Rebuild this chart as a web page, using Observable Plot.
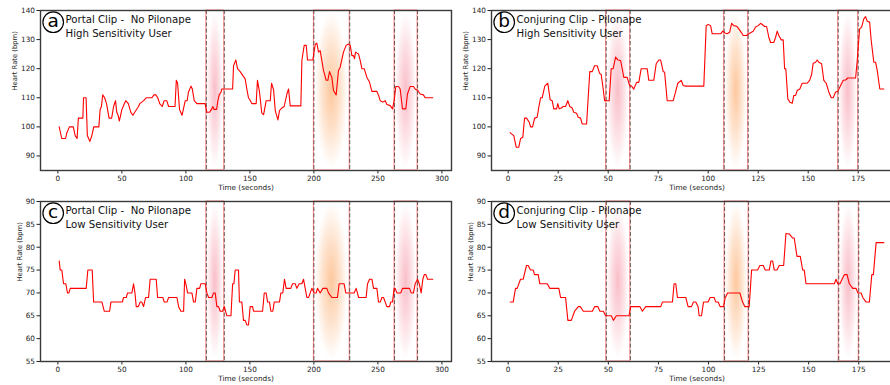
<!DOCTYPE html>
<html>
<head>
<meta charset="utf-8">
<script src="https://cdn.jsdelivr.net/npm/d3@7"></script>
<script src="https://cdn.jsdelivr.net/npm/@observablehq/plot@0.6"></script>
<style>
  html, body { margin: 0; padding: 0; background: #fff; overflow: hidden; }
  #root { position: relative; width: 890px; height: 385px; overflow: hidden; background: #fff; }
  #root svg { position: absolute; overflow: visible; }
  #root svg text { white-space: pre; }
</style>
</head>
<body>
<div id="root"></div>
<script>
// ---------- data (time in seconds, heart rate in bpm) ----------
const portalHighHR = [[1,100],[3,96],[6,96],[7,98],[9,100],[12,100],[13.5,97],[15,96],[16,103],[19.5,103],[20,110],[22,110],[23,97],[24,96],[25,95],[26.5,97],[28,100],[32,100],[33,106],[34,107],[35,111],[36.5,110],[38,108],[40,103],[42,103],[43.5,107],[45,109],[46,105],[47,104],[48,102],[50,106],[52,108],[53,109],[55,108],[57,105],[58.6,104],[60,105],[63,107],[64,108],[67,109],[69,110],[73.5,110],[75,111],[76.5,111],[78,110],[79.5,108],[81.5,107],[83,109],[85,109],[86.5,107],[91.5,107],[92.5,116],[93.5,115],[95,106],[97,104],[99.5,109],[101,109],[102,112],[104,114],[105,113],[106.5,109],[108.6,108],[115,108],[116.4,105],[118.5,105],[120,106],[121,107],[122,106],[124,106],[125,109],[126,111],[127.5,112],[128,113],[136.5,113],[137.2,121],[139,123],[140.3,120],[142.4,119],[144.5,117.6],[146.3,116.5],[147.6,113],[148.9,110],[149.7,109.5],[151.5,108],[154.9,108],[155.9,116],[157.5,112],[159.3,104.7],[160.7,104.2],[162.7,109],[165.9,109],[166.9,115],[168.5,112.7],[169.8,105.6],[171.9,102.4],[173.1,105.6],[175,106.5],[176.8,107],[178.9,111.3],[180.2,113],[181.5,107.2],[189.8,107.2],[190.6,122.8],[192.4,128],[194,128],[195,123],[199.2,123],[201,128.3],[202.3,128.8],[203.6,125.7],[204.9,126.2],[207.5,119.4],[209.6,116],[210.9,116],[212.2,119],[214,117],[215.3,112.5],[217.4,111],[219.2,119.4],[220.5,120.5],[223.1,125.7],[225.2,128],[227,128.5],[228.4,128],[229.7,124.5],[231,124.5],[231.7,123.4],[232.5,125.7],[234.9,125],[236.2,122.8],[237.5,120],[239.3,120],[241.4,117],[243.5,115.3],[245.3,112.2],[249.2,112.2],[250.5,110.8],[251.8,109],[253.9,108.5],[255.7,109],[257,107.7],[259.6,107.3],[261.4,106.2],[262.7,109],[264,113.9],[266.1,113.9],[267.4,113],[269.2,106.2],[271.8,106.2],[273.1,111.3],[275.2,113.9],[277.8,113.9],[279.1,113],[281.2,112.5],[283,111.3],[285.6,111],[286.9,110],[292.9,110]];

const conjuringHighHR = [[1,98],[1.7,97.6],[2.8,97],[4,93],[5.3,93],[6.2,96],[7.3,96.4],[8.2,103],[9.2,103],[10.5,101.6],[11.2,100],[12.2,100],[13.2,103],[14.5,103.3],[15.3,106.7],[16.2,110],[17,110],[18.3,114],[19.8,115],[21,109.3],[22,109],[22.8,106.2],[24.2,106.2],[24.8,108],[25.5,106.2],[26.5,106.5],[27.5,107],[28.7,107],[29.8,109],[30.8,107],[32,106.5],[32.8,105],[34.2,104.7],[35,103.3],[36.2,103],[37,101],[39.2,101],[40.8,119],[42,119],[43.2,121],[44.5,121],[45.7,118.4],[46.5,118],[47.5,113],[48.2,109],[50.5,109],[51.5,120],[52.5,120],[53.7,124],[54.8,123],[56.2,122.8],[57,120],[57.8,117],[59.5,117],[60.7,114.2],[61.7,114],[62.8,113],[64.2,115.3],[65.3,115.3],[66.5,120],[69.5,120],[70.3,116],[72.8,116],[74,121.7],[75.3,123],[76.2,123],[77.5,119],[78.2,118.8],[79.5,109],[82.5,109],[83.7,112],[84.8,115],[86.5,116],[87.5,114.2],[88.7,114],[97.8,114],[99,134.8],[100,135.2],[101.2,134.8],[102,132],[106.2,132],[107.3,132.9],[108.3,132.3],[109.5,132],[110.7,132.5],[111.7,135.6],[112.8,134.8],[114.2,134.6],[115.3,133.7],[116.5,132.5],[117.5,131.4],[119.2,131.4],[120.3,132],[122.5,132.9],[123.7,134.3],[125,134.8],[126.2,135.6],[127,135.2],[128.2,134.5],[129.2,134.5],[130.3,130.8],[131.2,129],[132.8,129],[133.7,130.8],[134.5,132.9],[135.3,131.4],[136.5,129.9],[137.5,129.9],[138.2,120],[138.8,120],[139.8,109.6],[140.8,108.5],[142,108.1],[142.8,110.8],[143.7,110.8],[144.5,112.5],[145.8,113],[147,115],[149.5,115],[150.7,116],[151.7,118],[152.5,121.9],[153.7,122.2],[154.5,123],[155.3,122.2],[156.7,121.7],[157.8,116],[159,115],[160.3,112],[161.5,110],[162.5,110],[163.7,112],[164.8,112.2],[166.2,114.2],[167.5,116],[168.7,116.1],[169.8,116.8],[173.7,116.8],[174.5,122.8],[175.7,133.7],[176.7,134.3],[177.8,137.1],[178.7,137.9],[179.5,136.3],[180.7,136],[181.5,129.7],[182.8,122.2],[183.7,122.2],[184.5,119.4],[185.8,113],[187.8,113]];

const portalLowHR = [[1,77],[1.8,75],[3.1,75],[4.4,72],[6.2,72],[7.5,70],[8.6,70],[9.6,71],[22.1,71],[23.4,75],[26.8,75],[27.9,68],[34.4,68],[36.2,66],[40.4,66],[41.4,68],[50.3,68],[51.3,69],[53.4,69],[54.4,70],[57.8,70],[59.1,72],[60.2,70],[61.2,67],[62.8,67],[64.3,68],[65.6,68],[66.9,67],[68.5,69],[70.8,69],[72.1,73],[76.8,73],[77.9,69],[82,69],[83.1,68],[85.2,68],[86.5,69],[93,69],[94.3,67],[96.1,66],[98.2,66],[99,73],[100,72],[101.3,70],[104.7,70],[106,68],[107.3,68],[108.6,71],[110.7,71],[111.7,72],[115.1,72],[116.4,70],[117.7,69],[120.3,69],[121.6,70],[122.9,70],[124.2,67],[125.5,67],[126.8,66],[128.6,66],[130,67],[131,66],[132,65],[135.2,65],[136.5,72],[137.5,72],[138.5,75],[141.1,75],[141.8,68],[143.7,68],[145,64],[146.3,64],[147.6,63],[148.9,63],[150.2,67],[152.1,67],[152.8,66],[159.9,66],[161.2,70],[162.7,70],[163.8,68],[165.3,68],[166.4,66],[167.9,66],[169,68],[173.1,68],[174.2,70],[175.7,70],[177,73],[178.3,71],[181.9,71],[183.3,72],[185.4,72],[186.7,71],[188.5,72],[190.6,72],[191.9,73],[193.2,71],[194.5,69],[195.8,69],[197.1,70],[198.4,71],[200.2,70],[201.8,70],[202.8,71],[204.9,70],[207,71],[210.1,71],[211.4,70],[214,69],[218.4,69],[219.7,72],[223.6,72],[224.9,70],[231.4,70],[233,71],[234,70],[234.9,69],[240.8,69],[241.9,72],[243.5,73],[245.3,73],[246.6,71],[249.2,71],[250.5,68],[251.8,68],[253.1,69],[254.4,69],[255.7,68],[257,67],[259.1,67],[260,68],[261.4,68],[262.7,71],[263.5,71],[264.8,70],[267.9,70],[269.2,71],[274.7,71],[276,70],[277.8,70],[279.1,72],[281,73],[282.3,72],[283.8,70],[285.1,73],[286.2,74],[287.5,74],[288.8,73],[292.9,73]];

const conjuringLowHR = [[1,68],[2.5,68],[3.65,71],[4.5,71],[6.15,73],[7.5,73],[9.15,76],[10,76],[11.15,75],[12.5,75],[13.15,74],[15,74],[15.8,72],[19.5,72],[20.8,71],[25.3,71],[26.15,69],[28.65,69],[29.8,64],[31.5,64],[33.15,66],[35,67],[36,67],[37.5,66],[42,66],[43.15,67],[44.8,67],[45.8,66],[47.5,66],[48.65,65],[51.5,65],[52.5,64],[54,65],[60.3,65],[61.15,67],[65.8,67],[67,66],[68.65,67],[76.15,67],[77,68],[82,68],[82.8,72],[83.65,72],[84.5,69],[88.65,69],[89.8,67],[91.5,67],[92.5,68],[93.65,68],[94.8,67],[95.3,65],[96.5,65],[97.5,68],[99.8,68],[100.8,69],[102.8,69],[103.65,68],[104.8,68],[105.8,67],[107.5,67],[108.3,68.9],[109.5,70],[115.65,70],[117,68],[118.15,67],[120.3,67],[121.5,75],[124.5,75],[125.65,76],[127.3,76],[128.3,75],[130.3,75],[131.15,77],[132,77],[132.8,75],[134.15,75],[135.3,76],[137.5,76],[138.65,83],[140.3,82.9],[142,82],[142.8,82],[144.15,78],[145.8,78],[147,75],[147.8,75],[148.65,72],[162.8,72],[163.65,73],[164.5,72],[165.65,72],[166.65,73],[167.8,74],[169.15,74],[170.3,72],[172,71],[173.65,71],[174.5,70],[176.15,70],[177,69],[178.65,68],[180.3,68],[181.5,74],[182.3,74],[183.65,81],[187.5,81]];

// stimulus windows (seconds) and their highlight tone
const portalWindowStart = [116, 200, 263];
const portalWindowEnd = [130, 228, 281];
const conjuringWindowStart = [49, 108, 165];
const conjuringWindowEnd = [61, 120, 175];
const windowTone = ["pink", "orange", "pink"];

// axis ticks
const portalXTicks = [0, 50, 100, 150, 200, 250, 300];
const conjuringXTicks = [0, 25, 50, 75, 100, 125, 150, 175];
const highYTicks = [90, 100, 110, 120, 130, 140];
const lowYTicks = [55, 60, 65, 70, 75, 80, 85, 90];
const highYDomain = [85, 140];
const lowYDomain = [55, 90];

// panel texts
const panelLetters = ["a", "b", "c", "d"];
const panelTitles = ["Portal Clip -  No Pilonape", "Conjuring Clip - Pilonape", "Portal Clip -  No Pilonape", "Conjuring Clip - Pilonape"];
const panelSubtitles = ["High Sensitivity User", "High Sensitivity User", "Low Sensitivity User", "Low Sensitivity User"];
const xAxisLabel = "Time (seconds)";
const yAxisLabel = "Heart Rate (bpm)";

// ---------- drawing ----------
const FONT = "'DejaVu Sans', sans-serif";
const root = document.getElementById("root");

function xDomainFor(points) {
  const lo = d3.min(points, d => d[0]), hi = d3.max(points, d => d[0]);
  const pad = (hi - lo) * 0.05;
  return [lo - pad, hi + pad];
}

function panel({id, points, starts, ends, xTicks, yTicks, yDomain, idx, left, top, yLabelDx}) {
  const series = points.map(([t, hr]) => ({t, hr}));
  const windows = starts.map((s, i) => ({s, e: ends[i], tone: windowTone[i]}));
  const edges = windows.flatMap(w => [w.s, w.e]);
  const innerW = 411, innerH = 160;
  const mL = 40, mT = 10, mB = 25, mR = 5;
  const svg = Plot.plot({
    width: mL + innerW + mR,
    height: mT + innerH + mB,
    marginLeft: mL, marginRight: mR, marginTop: mT, marginBottom: mB,
    style: {fontFamily: FONT, fontSize: "7.3px", color: "#222", background: "transparent"},
    x: {domain: xDomainFor(points), ticks: xTicks, tickSize: 3.5, tickPadding: 2, label: null, tickFormat: d3.format("d")},
    y: {domain: yDomain, ticks: yTicks, tickSize: 3.5, tickPadding: 2, label: null, tickFormat: d3.format("d")},
    marks: [
      Plot.rect(windows.filter(w => w.tone === "pink"), {x1: "s", x2: "e", fill: `url(#${id}-pink)`}),
      Plot.rect(windows.filter(w => w.tone === "orange"), {x1: "s", x2: "e", fill: `url(#${id}-orange)`}),
      Plot.rect(windows, {x1: "s", x2: "e", fill: "none", stroke: "#ff0000", strokeOpacity: 0.5, strokeWidth: 1}),
      Plot.ruleX(edges, {stroke: "#333", strokeOpacity: 0.75, strokeWidth: 1, strokeDasharray: "4,2.2"}),
      Plot.line(series, {x: "t", y: "hr", stroke: "#ff0000", strokeWidth: 1.1}),
      Plot.frame({stroke: "#3a3a3a", strokeWidth: 1.4}),
      Plot.text([panelTitles[idx] + "\n" + panelSubtitles[idx]], {
        frameAnchor: "top-left", textAnchor: "start", lineAnchor: "top", lineHeight: 1.37,
        dx: 25, dy: 2.2, fontSize: 10.2, fill: "#111"
      }),
      Plot.dot([0], {frameAnchor: "top-left", dx: 12.7, dy: 11.7, r: 10.3, stroke: "#000", strokeWidth: 1.2, fill: "#fff"}),
      Plot.text([panelLetters[idx]], {frameAnchor: "top-left", textAnchor: "middle", lineAnchor: "middle", dx: 12.7, dy: 10.8, fontSize: 18.5, fill: "#000"}),
      Plot.text([xAxisLabel], {frameAnchor: "bottom", lineAnchor: "middle", dy: 17.5, fontSize: 7.3, fill: "#222"}),
      Plot.text([yAxisLabel], {frameAnchor: "left", lineAnchor: "middle", rotate: -90, dx: yLabelDx, fontSize: 6.8, fill: "#222"})
    ]
  });
  // radial gradients for the highlighted windows
  const defs = d3.select(svg).insert("defs", ":first-child");
  const tones = {pink: "#f5899c", orange: "#fb9a4e"};
  for (const [name, col] of Object.entries(tones)) {
    const g = defs.append("radialGradient").attr("id", `${id}-${name}`)
      .attr("cx", 0.5).attr("cy", 0.5).attr("r", 0.5)
      .attr("gradientTransform", "translate(0.5,0.5) scale(0.92,0.98) translate(-0.5,-0.5)");
    g.append("stop").attr("offset", 0).attr("stop-color", col).attr("stop-opacity", 0.55);
    g.append("stop").attr("offset", 0.5).attr("stop-color", col).attr("stop-opacity", 0.3);
    g.append("stop").attr("offset", 1).attr("stop-color", col).attr("stop-opacity", 0);
  }
  svg.style.left = left + "px";
  svg.style.top = top + "px";
  root.appendChild(svg);
}

panel({id: "pa", points: portalHighHR, starts: portalWindowStart, ends: portalWindowEnd, xTicks: portalXTicks, yTicks: highYTicks, yDomain: highYDomain, idx: 0, left: 0, top: 0, yLabelDx: -26});
panel({id: "pb", points: conjuringHighHR, starts: conjuringWindowStart, ends: conjuringWindowEnd, xTicks: conjuringXTicks, yTicks: highYTicks, yDomain: highYDomain, idx: 1, left: 451, top: 0, yLabelDx: -26});
panel({id: "pc", points: portalLowHR, starts: portalWindowStart, ends: portalWindowEnd, xTicks: portalXTicks, yTicks: lowYTicks, yDomain: lowYDomain, idx: 2, left: 0, top: 191, yLabelDx: -21});
panel({id: "pd", points: conjuringLowHR, starts: conjuringWindowStart, ends: conjuringWindowEnd, xTicks: conjuringXTicks, yTicks: lowYTicks, yDomain: lowYDomain, idx: 3, left: 451, top: 191, yLabelDx: -21});
</script>
</body>
</html>
